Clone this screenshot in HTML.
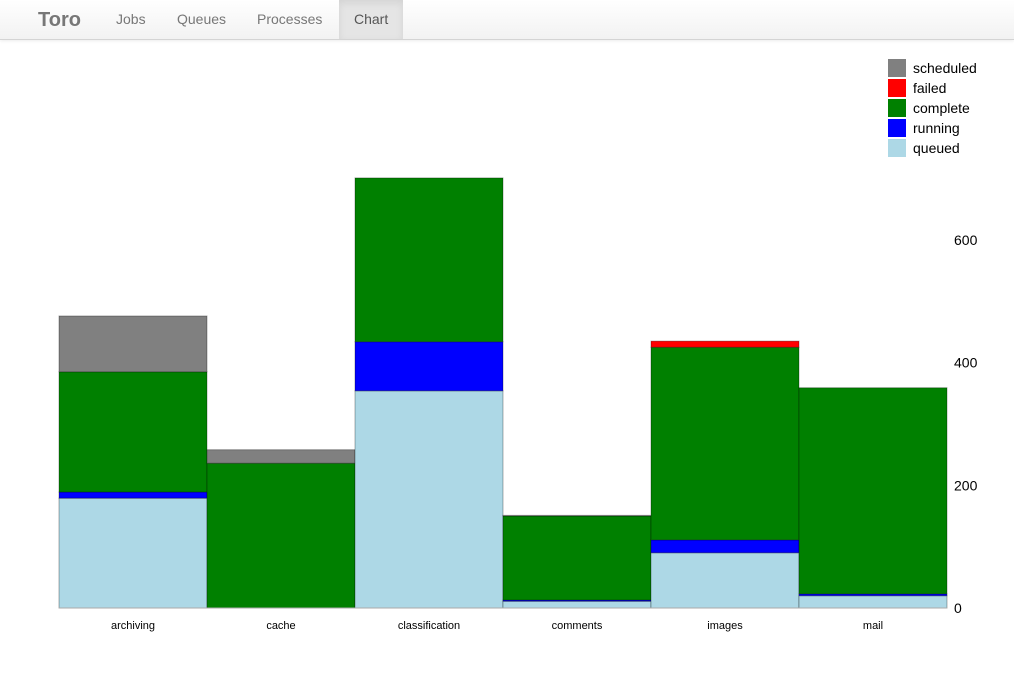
<!DOCTYPE html>
<html><head><meta charset="utf-8"><style>
body{margin:0;width:1014px;height:700px;background:#fff;font-family:"Liberation Sans",Arial,sans-serif;overflow:hidden}
.nav{position:absolute;left:0;top:0;width:1014px;height:39px;background:linear-gradient(#fff,#f2f2f2);border-bottom:1px solid #d4d4d4;box-shadow:0 1px 3px rgba(0,0,0,.08)}
.brand{position:absolute;left:38px;top:9px;font-size:20px;font-weight:bold;color:#777}
.item{position:absolute;top:11px;font-size:14px;color:#777}
.active{position:absolute;left:339px;top:0;width:64px;height:39px;background:#e5e5e5;box-shadow:inset 0 3px 8px rgba(0,0,0,.08)}
</style></head><body>
<div class="nav">
<span class="brand">Toro</span>
<span class="item" style="left:116px">Jobs</span>
<span class="item" style="left:177px">Queues</span>
<span class="item" style="left:257px">Processes</span>
<div class="active"><span class="item" style="left:15px;color:#555">Chart</span></div>
</div>
<svg id="chart" width="1014" height="700" style="position:absolute;left:0;top:0"></svg>
<script>
const categories=["archiving","cache","classification","comments","images","mail"];
const queued=[179,0,354,11,90,20];
const running=[10,0,80,2,21,3];
const complete=[196,236,267,137,314,336];
const failed=[0,0,0,0,10,0];
const scheduled=[91,22,0,1,0,0];
const yTicks=[0,200,400,600];
const seriesNames=["queued","running","complete","failed","scheduled"];
const seriesData=[queued,running,complete,failed,scheduled];
const colors=["lightblue","blue","green","red","gray"];
const NS="http://www.w3.org/2000/svg";
const svg=document.getElementById('chart');
const x0=59,bw=148,yBase=608,k=122.7/200;
const y=v=>yBase-v*k;
const xs=i=>x0+i*bw;
function mk(t,a){const e=document.createElementNS(NS,t);for(const n in a)e.setAttribute(n,a[n]);svg.appendChild(e);return e;}
categories.forEach((c,i)=>{
 let acc=0;
 seriesData.forEach((s,j)=>{
  const v=s[i]; if(v<=0){return;}
  const r=mk('rect',{x:xs(i),y:y(acc+v),width:bw,height:v*k,fill:colors[j],stroke:'rgba(0,0,0,0.3)','stroke-width':1});
  
  
  acc+=v;
 });
 const t=mk('text',{x:xs(i)+bw/2,y:629,'font-size':11,'text-anchor':'middle',fill:'#000'});
 t.textContent=c;
 
 
});
const ax=mk('line',{x1:x0,x2:x0+6*bw,y1:yBase,y2:yBase,stroke:'#aaa'});


yTicks.forEach(v=>{
 const t=mk('text',{x:954,y:y(v)+5,'font-size':14,fill:'#000'});
 t.textContent=v;
 
 
});
[4,3,2,1,0].forEach((j,n)=>{
 const yy=59+n*20;
 const r=mk('rect',{x:888,y:yy,width:18,height:18,fill:colors[j]});
 
 
 const t=mk('text',{x:913,y:yy+14,'font-size':14,fill:'#000'});
 t.textContent=seriesNames[j];
 
 
});
</script>
</body></html>
